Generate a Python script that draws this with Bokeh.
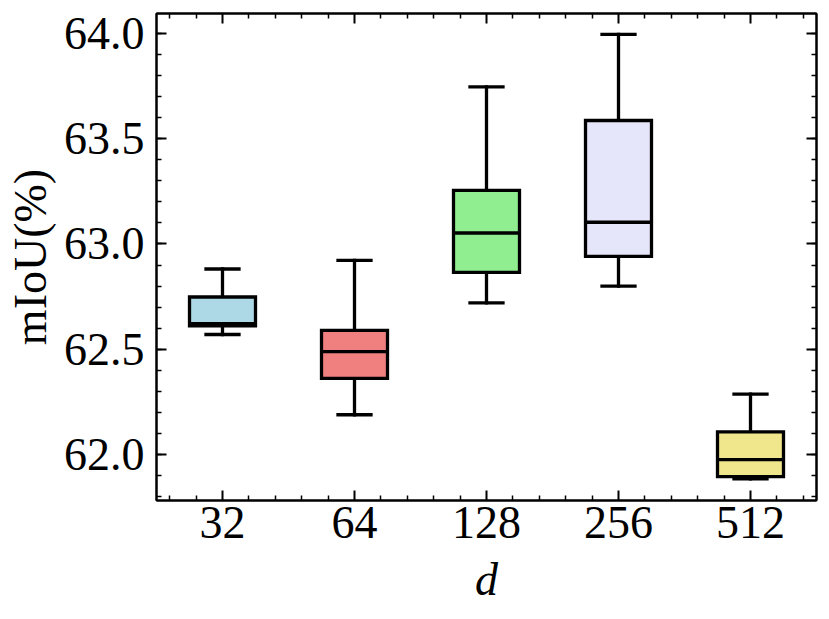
import numpy as np
from bokeh.plotting import figure
from bokeh.models import (Range1d, LinearAxis, FixedTicker, CustomJSTickFormatter,
                          PrintfTickFormatter, ColumnDataSource)
from bokeh.embed import file_html
from bokeh.resources import INLINE

# ---- data ----
categories = ["32", "64", "128", "256", "512"]
whisker_low = [62.570, 62.189, 62.720, 62.800, 61.885]
q1 = [62.611, 62.362, 62.865, 62.941, 61.895]
median = [62.622, 62.489, 63.052, 63.103, 61.976]
q3 = [62.748, 62.590, 63.254, 63.586, 62.108]
whisker_high = [62.881, 62.922, 63.746, 63.995, 62.287]
colors = ["#ADD8E6", "#F08080", "#90EE90", "#E6E6FA", "#F0E68C"]

y_ticks = [62.0, 62.5, 63.0, 63.5, 64.0]
x_label = "d"
y_label = "mIoU(%)"

FONT = "Liberation Serif"
FS = "46px"
BOX_W = 0.5
CAP_W = 0.25
LW = 3.3

pos = np.arange(1, len(categories) + 1, dtype=float)
src = ColumnDataSource(dict(
    x=pos, x_l=pos - BOX_W / 2, x_r=pos + BOX_W / 2,
    c_l=pos - CAP_W / 2, c_r=pos + CAP_W / 2,
    wlo=whisker_low, q1=q1, med=median, q3=q3, whi=whisker_high, color=colors,
))

p = figure(width=828, height=618, output_backend="svg", toolbar_location=None,
           x_range=Range1d(0.5, len(categories) + 0.5),
           y_range=Range1d(61.782, 64.094),
           min_border_left=156, min_border_right=12, min_border_top=13,
           min_border_bottom=118, title=None)
p.grid.visible = False
p.outline_line_color = "black"
p.outline_line_width = 2
p.background_fill_color = "white"
p.border_fill_color = "white"

# whiskers
p.segment(x0="x", y0="q3", x1="x", y1="whi", source=src, line_color="black",
          line_width=LW, line_cap="square")
p.segment(x0="x", y0="q1", x1="x", y1="wlo", source=src, line_color="black",
          line_width=LW, line_cap="square")
# caps
p.segment(x0="c_l", y0="whi", x1="c_r", y1="whi", source=src, line_color="black",
          line_width=LW, line_cap="square")
p.segment(x0="c_l", y0="wlo", x1="c_r", y1="wlo", source=src, line_color="black",
          line_width=LW, line_cap="square")
# boxes
p.vbar(x="x", width=BOX_W, bottom="q1", top="q3", source=src, fill_color="color",
       line_color="black", line_width=LW, line_join="miter")
# medians
p.segment(x0="x_l", y0="med", x1="x_r", y1="med", source=src, line_color="black",
          line_width=LW)

minor_x = [round(v, 2) for v in np.arange(0.6, len(categories) + 0.45, 0.2)
           if abs(v - round(v)) > 1e-6]
minor_y = [round(v, 2) for v in np.arange(61.8, 64.11, 0.1)]
x_ticker = FixedTicker(ticks=list(pos), minor_ticks=minor_x)
y_ticker = FixedTicker(ticks=y_ticks, minor_ticks=minor_y)


def style_axis(ax):
    ax.axis_line_color = "black"
    ax.axis_line_width = 2
    ax.major_tick_line_color = "black"
    ax.minor_tick_line_color = "black"
    ax.major_tick_line_width = 2
    ax.minor_tick_line_width = 1.5
    ax.major_tick_in = 10
    ax.major_tick_out = 0
    ax.minor_tick_in = 5
    ax.minor_tick_out = 0
    ax.major_label_text_font = FONT
    ax.major_label_text_font_size = FS
    ax.major_label_text_color = "black"
    ax.axis_label_text_font = FONT
    ax.axis_label_text_font_size = FS
    ax.axis_label_text_color = "black"
    ax.axis_label_text_font_style = "normal"


xa = p.xaxis[0]
style_axis(xa)
xa.ticker = x_ticker
xa.major_label_overrides = {float(k): c for k, c in zip(pos, categories)}
xa.major_label_standoff = 6
xa.axis_label = x_label
xa.axis_label_text_font_style = "italic"
xa.axis_label_standoff = 13

ya = p.yaxis[0]
style_axis(ya)
ya.ticker = y_ticker
ya.formatter = PrintfTickFormatter(format="%.1f")
ya.major_label_standoff = 12
ya.axis_label = y_label
ya.axis_label_standoff = 5

empty = CustomJSTickFormatter(code="return ''")
top = LinearAxis(ticker=x_ticker, formatter=empty)
style_axis(top)
top.major_label_text_font_size = "1px"
top.major_label_standoff = 0
p.add_layout(top, "above")

right = LinearAxis(ticker=y_ticker, formatter=empty)
style_axis(right)
right.major_label_text_font_size = "1px"
right.major_label_standoff = 0
p.add_layout(right, "right")

open("out.html", "w").write(file_html(p, INLINE))
